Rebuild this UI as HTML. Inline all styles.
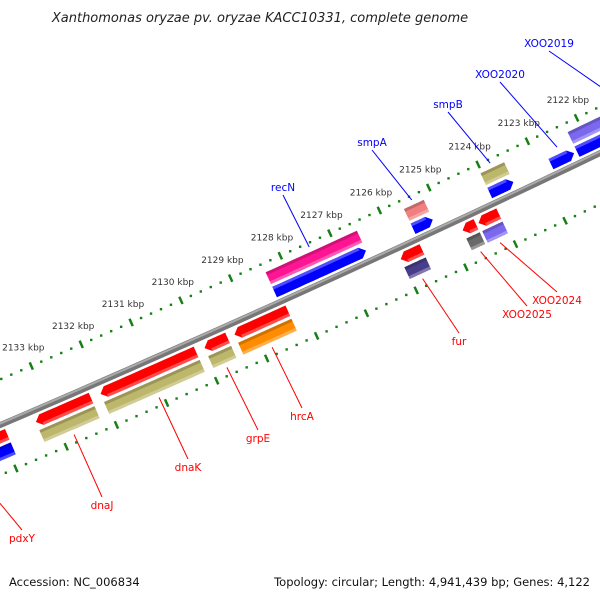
<!DOCTYPE html>
<html><head><meta charset="utf-8"><style>
body{margin:0;background:#fff}
svg{display:block;font-family:"DejaVu Sans","Liberation Sans",sans-serif}
</style></head><body>
<svg id="map" width="600" height="600" viewBox="0 0 600 600" xmlns="http://www.w3.org/2000/svg">
<rect width="600" height="600" fill="#fff"/>
<text x="260" y="22" text-anchor="middle" font-size="13" font-style="italic" fill="#222">Xanthomonas oryzae pv. oryzae KACC10331, complete genome</text>
<g id="rings"></g>
<g id="features"></g>
<g id="labels"></g>
<text x="9" y="586" font-size="11.5" fill="#111">Accession: NC_006834</text>
<text x="590" y="586" text-anchor="end" font-size="11.5" fill="#111">Topology: circular; Length: 4,941,439 bp; Genes: 4,122</text>
</svg>
<script>
const geneNames = ["recN","smpA","smpB","XOO2020","XOO2019","fur","XOO2025","XOO2024","hrcA","grpE","dnaK","dnaJ","pdxY"];
const geneStarts = [2126530,2125180,2123550,2122320,2120000,2125590,2124500,2124040,2128290,2129500,2130130,2132230,2133900];
const geneEnds   = [2128370,2125580,2124030,2122790,2122260,2126020,2124770,2124450,2129360,2129960,2132040,2133330,2135500];
const geneStrand = [-1,-1,-1,-1,-1,1,1,1,1,1,1,1,1];
const cogColor = ["#ff1493","#f08080","#bdb76b",null,"#7b68ee","#483d8b","#696969","#7b68ee","#ff8c00","#bdb76b","#bdb76b","#bdb76b","#0000ff"];
const tickKbp = [2120,2121,2122,2123,2124,2125,2126,2127,2128,2129,2130,2131,2132,2133,2134,2135];
const tickLabelKbp = [2122,2123,2124,2125,2126,2127,2128,2129,2130,2131,2132,2133];
const labelX = [283,372,448,500,549,459,527,557,302,258,188,102,22];
const labelY = [191,146,108,78,47,345,318,304,420,442,471,509,542];

const NS="http://www.w3.org/2000/svg";
const CX=-6278, CY=-14221, R0=15935, T0=1.12487, K=3.427e-6, REF=2122000;
function pt(bp,off){const t=T0+(bp-REF)*K, r=R0+off;return [CX+r*Math.cos(t), CY+r*Math.sin(t)];}
function mk(tag,attrs,parent){const e=document.createElementNS(NS,tag);for(const k in attrs)e.setAttribute(k,attrs[k]);parent.appendChild(e);return e;}
function band(a,b,r1,r2){const p=[],n=16;for(let i=0;i<=n;i++)p.push(pt(a+(b-a)*i/n,r1));for(let i=n;i>=0;i--)p.push(pt(a+(b-a)*i/n,r2));return p.map(q=>q[0].toFixed(1)+","+q[1].toFixed(1)).join(" ");}
const rings=document.getElementById('rings'), feats=document.getElementById('features');

{const p=[];for(let bp=2119000;bp<=2137000;bp+=500)p.push(pt(bp,0));
 const d="M"+p.map(q=>q[0].toFixed(1)+","+q[1].toFixed(1)).join(" L");
 const bb=mk('path',{d:d,stroke:"#777","stroke-width":6,fill:"none"},rings);
 
 
 const hl=mk('path',{d:d,stroke:"#aaa","stroke-width":2,fill:"none",transform:"translate(-0.6,-1.3)"},rings);
 
 }

[-42,46].forEach(off=>{
 for(let bp=tickKbp[0]*1000;bp<=tickKbp[tickKbp.length-1]*1000;bp+=200){
  if(bp%1000===0){const a=pt(bp,off-4),b=pt(bp,off+4);
   const l=mk('line',{x1:a[0],y1:a[1],x2:b[0],y2:b[1],stroke:"#168016","stroke-width":2.5},rings);
   
   }
  else{const c=pt(bp,off);
   const d=mk('rect',{x:c[0]-1.2,y:c[1]-1.2,width:2.4,height:2.4,fill:"#168016"},rings);
   
   }
 }});
tickLabelKbp.forEach(k=>{const c=pt(k*1000,-62);
 const t=mk('text',{x:c[0].toFixed(1),y:(c[1]+3).toFixed(1),"text-anchor":"middle","font-size":"9","font-weight":"500",fill:"#333"},rings);
 t.textContent=k+" kbp";
 
 });

function shaded(pts,color,parent,name){
 const g=mk('polygon',{points:pts,fill:color},parent);
 
 
 return g;}
geneNames.forEach((nm,i)=>{
 const s=geneStarts[i], e=geneEnds[i], st=geneStrand[i], sg=st>0?1:-1;
 const r1=sg*5.5, r2=sg*17, rm=(r1+r2)/2, ah=110;
 const col=st>0?"#ff0000":"#0000ff";
 let pts;const n=12;
 if(st>0){
  const base=[];for(let j=0;j<=n;j++)base.push(pt(s+(e-ah-s)*j/n,r1));
  const top=[];for(let j=n;j>=0;j--)top.push(pt(s+(e-ah-s)*j/n,r2));
  pts=[...base,pt(e,rm),...top];
 }else{const base=[];for(let j=0;j<=n;j++)base.push(pt(s+ah+(e-s-ah)*j/n,r1));
  const top=[];for(let j=n;j>=0;j--)top.push(pt(s+ah+(e-s-ah)*j/n,r2));
  pts=[...base,...top,pt(s,rm)];}
 const ps=pts.map(q=>q[0].toFixed(1)+","+q[1].toFixed(1)).join(" ");
 shaded(ps,col,feats,'gene-'+nm+'-strand');
 const sh=mk('polygon',{points:band(st>0?s:s+ah,st>0?e-ah:e,r2-sg*3,r2),fill:"#fff","fill-opacity":0.3},feats);
 
 
 if(cogColor[i]){
  const c1=sg*20,c2=sg*33;
  shaded(band(s,e,c1,c2),cogColor[i],feats,'gene-'+nm+'-cog');
  const d1=mk('polygon',{points:band(s,e,st>0?c1:c2,st>0?c1+3:c2+3),fill:"#000","fill-opacity":0.18},feats);
  
  
  const d2=mk('polygon',{points:band(s,e,st>0?c2-3:c1-3,st>0?c2:c1),fill:"#fff","fill-opacity":0.3},feats);
  
  
 }
 const labs=document.getElementById('labels');
 const mid=(s+e)/2, anchorBp=Math.min(Math.max(mid,2120300),2135000);
 const a=pt(anchorBp, sg*(cogColor[i]?38:24));
 const lx=labelX[i], ly=labelY[i]+(st>0?-12:4);
 const ln=mk('line',{x1:a[0].toFixed(1),y1:a[1].toFixed(1),x2:lx,y2:ly,stroke:st>0?"#ff0000":"#0000ff","stroke-width":1},labs);
 
 
 const t=mk('text',{x:lx,y:labelY[i],"text-anchor":"middle","font-size":"10.5",fill:st>0?"#ff0000":"#0000ff"},labs);
 t.textContent=nm;
 
 
});
</script>
</body></html>
